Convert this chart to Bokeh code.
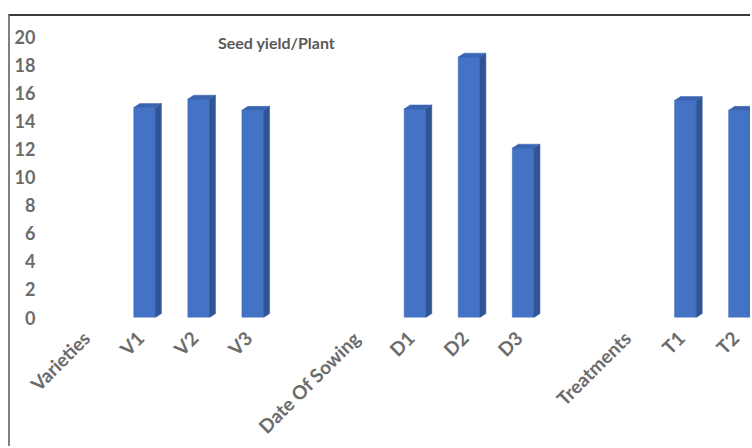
import math

from bokeh.embed import file_html
from bokeh.models import ColumnDataSource, FixedTicker, Label, Range1d
from bokeh.plotting import figure
from bokeh.resources import INLINE

# Category labels along the x axis (group headings, levels, and spacer slots)
categories = ["Varieties", "V1", "V2", "V3", "", "Date Of Sowing",
              "D1", "D2", "D3", "", "Treatments", "T1", "T2"]
# Seed yield per plant for each level
levels = ["V1", "V2", "V3", "D1", "D2", "D3", "T1", "T2"]
seed_yield = [15.0, 15.6, 14.8, 14.9, 18.6, 12.1, 15.5, 14.8]
y_ticks = [0, 2, 4, 6, 8, 10, 12, 14, 16, 18, 20]

x_pos = [categories.index(name) for name in levels]

FONT = "Lato"
LABEL_GRAY = "#6b6b6b"

# Outer chart box: top and left edges drawn with CSS, offset from the page corner
BOX_LEFT, BOX_TOP = 8, 14

p = figure(width=752 - BOX_LEFT - 2, height=448 - BOX_TOP - 2,
           output_backend="svg", toolbar_location=None,
           x_range=Range1d(-0.5, 12.24), y_range=Range1d(0, 21.07),
           min_border_left=63 - BOX_LEFT - 2, min_border_right=0,
           min_border_top=22 - BOX_TOP - 2, min_border_bottom=130)
p.styles = {
    "margin-left": f"{BOX_LEFT}px",
    "margin-top": f"{BOX_TOP}px",
    "border-top": "2px solid #3a3a3a",
    "border-left": "2px solid #808080",
}
p.outline_line_color = None
p.grid.visible = False
p.background_fill_color = "white"
p.border_fill_color = "white"

# Front faces
w = 0.4
src = ColumnDataSource(dict(x=x_pos, top=seed_yield))
p.vbar(x="x", top="top", bottom=0, width=w, source=src,
       fill_color="#4472c4", line_color="#3d68b8", line_width=0.6)

# Depth of the pseudo-3D columns (side and top faces)
dx, dy = 0.11, 0.28
side_xs, side_ys, cap_xs, cap_ys = [], [], [], []
for x, v in zip(x_pos, seed_yield):
    r = x + w / 2
    l = x - w / 2
    side_xs.append([r, r + dx, r + dx, r])
    side_ys.append([0, dy, v + dy, v])
    cap_xs.append([l, l + dx, r + dx, r])
    cap_ys.append([v, v + dy, v + dy, v])
p.patches(side_xs, side_ys, fill_color="#2f5597", line_color="#2f5597", line_width=0.5)
p.patches(cap_xs, cap_ys, fill_color="#3a64b0", line_color="#3a64b0", line_width=0.5)

# Y axis: labels only
p.yaxis.ticker = FixedTicker(ticks=y_ticks)
p.yaxis.axis_line_color = None
p.yaxis.major_tick_line_color = None
p.yaxis.minor_tick_line_color = None
p.yaxis.major_label_standoff = 22
p.yaxis.major_label_text_font = FONT
p.yaxis.major_label_text_font_style = "bold"
p.yaxis.major_label_text_font_size = "18px"
p.yaxis.major_label_text_color = LABEL_GRAY

# X axis: rotated category labels, ticks nudged left so each label ends at its column
shift = 0.08
tick_pos = [round(i - shift, 2) for i in range(len(categories))]
p.xaxis.ticker = FixedTicker(ticks=tick_pos)
p.xaxis.major_label_overrides = {t: name for t, name in zip(tick_pos, categories)}
p.xaxis.major_label_orientation = math.pi / 4
p.xaxis.axis_line_color = None
p.xaxis.major_tick_line_color = None
p.xaxis.minor_tick_line_color = None
p.xaxis.major_label_standoff = 11
p.xaxis.major_label_text_font = FONT
p.xaxis.major_label_text_font_style = "bold"
p.xaxis.major_label_text_font_size = "19px"
p.xaxis.major_label_text_color = LABEL_GRAY

# Chart title placed inside the plot area
p.add_layout(Label(x=3.44, y=19.65, text="Seed yield/Plant", text_align="center",
                   text_baseline="middle", text_font=FONT, text_font_style="bold",
                   text_font_size="16px", text_color="#595959"))

open("out.html", "w").write(file_html(p, INLINE))
